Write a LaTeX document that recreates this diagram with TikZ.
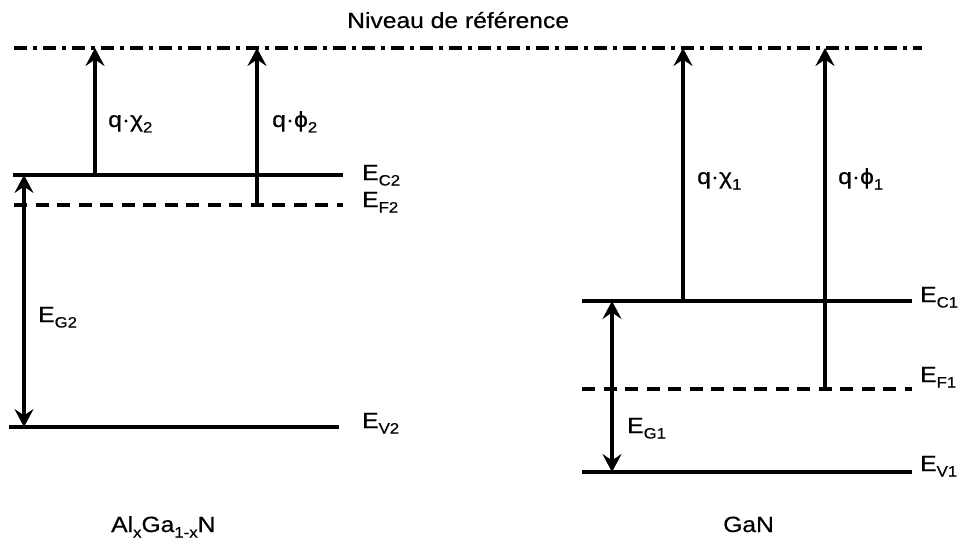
\documentclass[tikz,border=0pt]{standalone}
\usepackage{fontspec}
\setmainfont{Liberation Sans}[FakeStretch=1.12,FakeBold=0.4]
\usetikzlibrary{arrows.meta}
\newcommand\lowsub[1]{\raisebox{-5.5pt}{\fontsize{15}{15}\selectfont #1}}
\begin{document}
\begin{tikzpicture}[x=1pt,y=-1pt,
  level/.style={line width=3.1pt},
  fermi/.style={line width=3.1pt,dash pattern=on 13pt off 8.5pt},
  refline/.style={line width=3.1pt,dash pattern=on 13pt off 6pt on 4pt off 6pt},
  energy/.style={line width=3.1pt,-{Stealth[length=18pt,width=19pt,inset=6.5pt]}},
  gap/.style={line width=3.1pt,{Stealth[length=18pt,width=19pt,inset=6.5pt]}-{Stealth[length=18pt,width=19pt,inset=6.5pt]}},
  lbl/.style={anchor=base west,inner sep=0pt,font=\fontsize{22}{26}\selectfont}]
\useasboundingbox (0,0) rectangle (959,543);
% reference level
\draw[refline] (14,48) -- (922,48);
\node[lbl] (ref) at (347,28) {Niveau de référence};
% AlGaN levels
\draw[level] (13,175) -- (343,175);
\draw[fermi] (14,205) -- (343,205);
\draw[level] (9,427) -- (339,427);
% GaN levels
\draw[level] (582,301) -- (912,301);
\draw[fermi] (582,389) -- (912,389);
\draw[level] (582,472) -- (912,472);
% coordinates
\coordinate (c2) at (95,175);
\coordinate (r2a) at (95,48);
\coordinate (f2) at (257,205);
\coordinate (r2b) at (257,48);
\coordinate (g2t) at (24,175);
\coordinate (g2b) at (24,427);
\coordinate (c1) at (683,301);
\coordinate (r1a) at (683,48);
\coordinate (f1) at (825,389);
\coordinate (r1b) at (825,48);
\coordinate (g1t) at (612,301);
\coordinate (g1b) at (612,472);
% arrows
\draw[energy] (c2) -- (r2a);
\draw[energy] (f2) -- (r2b);
\draw[gap] (g2t) -- (g2b);
\draw[energy] (c1) -- (r1a);
\draw[energy] (f1) -- (r1b);
\draw[gap] (g1t) -- (g1b);
% labels
\node[lbl] (chi2) at (108,127) {q·χ\lowsub{2}};
\node[lbl] (phi2) at (272,127) {q·ϕ\lowsub{2}};
\node[lbl] (ec2) at (362,180) {E\lowsub{C2}};
\node[lbl] (ef2) at (362,207) {E\lowsub{F2}};
\node[lbl] (eg2) at (38,322) {E\lowsub{G2}};
\node[lbl] (ev2) at (362,428) {E\lowsub{V2}};
\node[lbl] (chi1) at (697,184) {q·χ\lowsub{1}};
\node[lbl] (phi1) at (838,184) {q·ϕ\lowsub{1}};
\node[lbl] (ec1) at (920,302) {E\lowsub{C1}};
\node[lbl] (ef1) at (920,382) {E\lowsub{F1}};
\node[lbl] (ev1) at (920,471) {E\lowsub{V1}};
\node[lbl] (eg1) at (627,433) {E\lowsub{G1}};
\node[lbl] (algan) at (111,532) {Al\lowsub{x}Ga\lowsub{1-x}N};
\node[lbl] (gan) at (723,532) {GaN};
\end{tikzpicture}
\end{document}
